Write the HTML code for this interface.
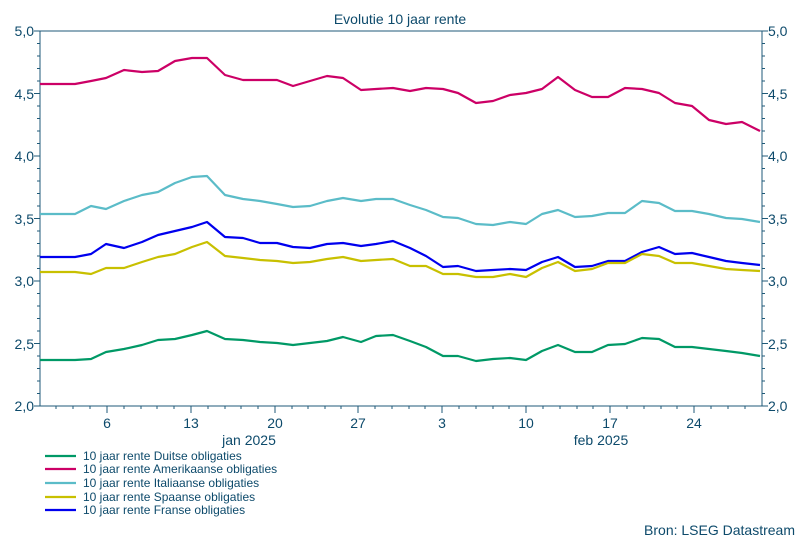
<!DOCTYPE html>
<html><head><meta charset="utf-8"><style>
html,body{margin:0;padding:0;background:#fff;}
svg{display:block;font-family:"Liberation Sans",sans-serif;}
</style></head><body>
<svg width="800" height="540" viewBox="0 0 800 540">
<rect width="800" height="540" fill="#fff"/>
<text x="400" y="24" font-size="14" text-anchor="middle" fill="#0d4a6b">Evolutie 10 jaar rente</text>
<rect x="40" y="31" width="722" height="375" fill="none" stroke="#1f5a78" stroke-width="1"/>
<g font-size="14" fill="#0d4a6b">
<text x="34" y="36" text-anchor="end">5,0</text><text x="768" y="36">5,0</text>
<text x="34" y="99" text-anchor="end">4,5</text><text x="768" y="99">4,5</text>
<text x="34" y="161" text-anchor="end">4,0</text><text x="768" y="161">4,0</text>
<text x="34" y="224" text-anchor="end">3,5</text><text x="768" y="224">3,5</text>
<text x="34" y="286" text-anchor="end">3,0</text><text x="768" y="286">3,0</text>
<text x="34" y="349" text-anchor="end">2,5</text><text x="768" y="349">2,5</text>
<text x="34" y="411" text-anchor="end">2,0</text><text x="768" y="411">2,0</text>
<text x="107" y="428" text-anchor="middle">6</text>
<text x="191" y="428" text-anchor="middle">13</text>
<text x="275" y="428" text-anchor="middle">20</text>
<text x="358" y="428" text-anchor="middle">27</text>
<text x="442" y="428" text-anchor="middle">3</text>
<text x="526" y="428" text-anchor="middle">10</text>
<text x="610" y="428" text-anchor="middle">17</text>
<text x="694" y="428" text-anchor="middle">24</text>
<text x="249" y="445" text-anchor="middle">jan 2025</text>
<text x="601" y="445" text-anchor="middle">feb 2025</text>
</g>
<g stroke="#1f5a78" stroke-width="1">
<path d="M34 31h6M34 93.5h6M34 156h6M34 218.5h6M34 281h6M34 343.5h6M34 406h6M762 31h6M762 93.5h6M762 156h6M762 218.5h6M762 281h6M762 343.5h6M762 406h6"/>
<path d="M37 43.5h3M37 56h3M37 68.5h3M37 81h3M37 106h3M37 118.5h3M37 131h3M37 143.5h3M37 168.5h3M37 181h3M37 193.5h3M37 206h3M37 231h3M37 243.5h3M37 256h3M37 268.5h3M37 293.5h3M37 306h3M37 318.5h3M37 331h3M37 356h3M37 368.5h3M37 381h3M37 393.5h3"/>
<path d="M762 43.5h3M762 56h3M762 68.5h3M762 81h3M762 106h3M762 118.5h3M762 131h3M762 143.5h3M762 168.5h3M762 181h3M762 193.5h3M762 206h3M762 231h3M762 243.5h3M762 256h3M762 268.5h3M762 293.5h3M762 306h3M762 318.5h3M762 331h3M762 356h3M762 368.5h3M762 381h3M762 393.5h3"/>
<path d="M107 406v7M191 406v7M275 406v7M358 406v7M442 406v7M526 406v7M610 406v7M694 406v7"/>
<path d="M56 406v3M73 406v3M90 406v3M124 406v3M141 406v3M157 406v3M174 406v3M208 406v3M225 406v3M241 406v3M258 406v3M292 406v3M308 406v3M325 406v3M341 406v3M375 406v3M392 406v3M409 406v3M425 406v3M459 406v3M476 406v3M493 406v3M509 406v3M543 406v3M560 406v3M577 406v3M593 406v3M627 406v3M644 406v3M661 406v3M677 406v3M711 406v3M728 406v3M745 406v3"/>
</g>
<g fill="none" stroke-width="2.2" stroke-linejoin="round">
<polyline stroke="#cc0066" points="40,84 57,84 75,84 91,81 106,78 124,70 142,72 158,71 175,61 192,58 207,58 225,75 243,80 260,80 277,80 293,86 310,81 327,76 343,78 361,90 376,89 393,88 410,91 426,88 443,89 458,93 476,103 493,101 510,95 526,93 542,89 558,77 575,90 592,97 608,97 625,88 642,89 659,93 675,103 692,106 709,120 726,124 742,122 760,131"/>
<polyline stroke="#5bbcc8" points="40,214 57,214 75,214 91,206 106,209 124,201 142,195 158,192 175,183 192,177 207,176 225,195 243,199 260,201 277,204 293,207 310,206 327,201 343,198 361,201 376,199 393,199 410,205 426,210 443,217 458,218 476,224 493,225 510,222 526,224 542,214 558,210 575,217 592,216 608,213 625,213 642,201 659,203 675,211 692,211 709,214 726,218 742,219 760,222"/>
<polyline stroke="#0000ee" points="40,257 57,257 75,257 91,254 106,244 124,248 142,242 158,235 175,231 192,227 207,222 225,237 243,238 260,243 277,243 293,247 310,248 327,244 343,243 361,246 376,244 393,241 410,248 426,256 443,267 458,266 476,271 493,270 510,269 526,270 542,262 558,257 575,267 592,266 608,261 625,261 642,252 659,247 675,254 692,253 709,257 726,261 742,263 760,265"/>
<polyline stroke="#c8c000" points="40,272 57,272 75,272 91,274 106,268 124,268 142,262 158,257 175,254 192,247 207,242 225,256 243,258 260,260 277,261 293,263 310,262 327,259 343,257 361,261 376,260 393,259 410,266 426,266 443,274 458,274 476,277 493,277 510,274 526,277 542,268 558,262 575,271 592,269 608,263 625,263 642,254 659,256 675,263 692,263 709,266 726,269 742,270 760,271"/>
<polyline stroke="#009966" points="40,360 57,360 75,360 91,359 106,352 124,349 142,345 158,340 175,339 192,335 207,331 225,339 243,340 260,342 277,343 293,345 310,343 327,341 343,337 361,342 376,336 393,335 410,341 426,347 443,356 458,356 476,361 493,359 510,358 526,360 542,351 558,345 575,352 592,352 608,345 625,344 642,338 659,339 675,347 692,347 709,349 726,351 742,353 760,356"/>
</g>
<g stroke-width="2.2">
<line x1="45" x2="76" y1="456" y2="456" stroke="#009966"/>
<line x1="45" x2="76" y1="469" y2="469" stroke="#cc0066"/>
<line x1="45" x2="76" y1="483" y2="483" stroke="#5bbcc8"/>
<line x1="45" x2="76" y1="497" y2="497" stroke="#c8c000"/>
<line x1="45" x2="76" y1="510" y2="510" stroke="#0000ee"/>
</g>
<g font-size="12" fill="#0d4a6b">
<text x="83" y="460">10 jaar rente Duitse obligaties</text>
<text x="83" y="473">10 jaar rente Amerikaanse obligaties</text>
<text x="83" y="487">10 jaar rente Italiaanse obligaties</text>
<text x="83" y="501">10 jaar rente Spaanse obligaties</text>
<text x="83" y="514">10 jaar rente Franse obligaties</text>
</g>
<text x="795" y="535" font-size="14" text-anchor="end" fill="#0d4a6b">Bron: LSEG Datastream</text>
</svg>
</body></html>
